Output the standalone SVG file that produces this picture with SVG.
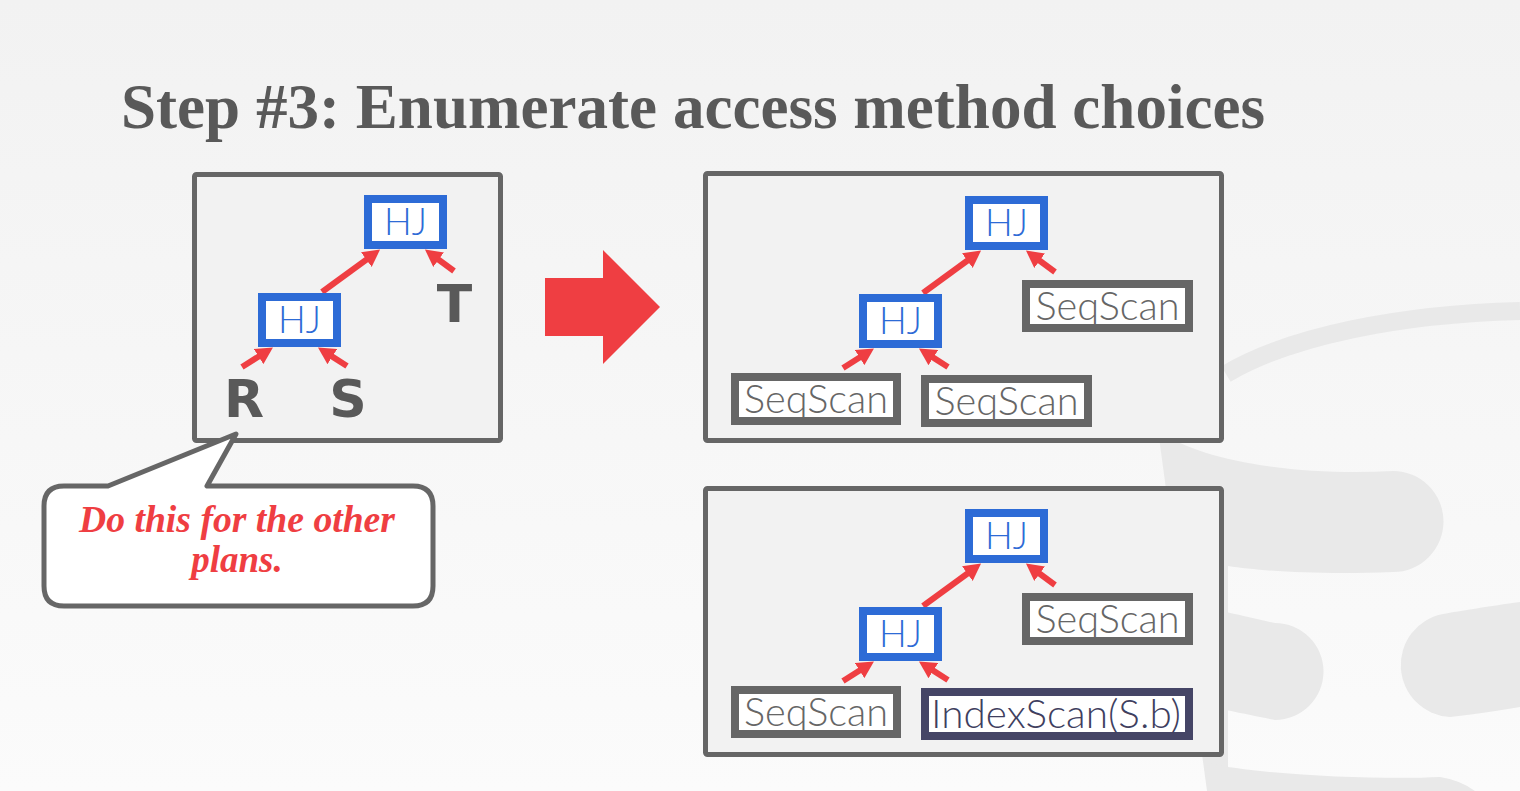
<svg xmlns="http://www.w3.org/2000/svg" width="1520" height="791" viewBox="0 0 1520 791">
<defs>
<linearGradient id="bg" x1="0" y1="0" x2="0" y2="1">
<stop offset="0" stop-color="#f2f2f2"/>
<stop offset="1" stop-color="#fbfbfb"/>
</linearGradient>
<marker id="ah" markerUnits="userSpaceOnUse" viewBox="0 0 17 18" markerWidth="17" markerHeight="18" refX="7" refY="9" orient="auto">
<path d="M0,0 L17,9 L0,18 Z" fill="#ef3e42"/>
</marker>
</defs>
<style>
.box{fill:#f2f2f2;stroke:#666;stroke-width:5}
.hj{fill:#fff;stroke:#2d6bd6;stroke-width:8}
.ss{fill:#fff;stroke:#666;stroke-width:8}
.ix{fill:#fff;stroke:#454566;stroke-width:8}
.hjt{font-family:Lato,"Open Sans",sans-serif;font-weight:300;font-size:38px;fill:#2d6bd6;text-anchor:middle}
.sst{font-family:Lato,"Open Sans",sans-serif;font-weight:300;font-size:40px;fill:#666;text-anchor:middle}
.ixt{font-family:Lato,"Open Sans",sans-serif;font-weight:300;font-size:40px;fill:#3f3f5f;text-anchor:middle}
.rel{font-family:"DejaVu Sans","Liberation Sans",sans-serif;font-weight:bold;font-size:52px;fill:#595959;text-anchor:middle}
.wm{fill:#e9e9e9}
.edge{fill:none;stroke:#ef3e42;stroke-width:6;marker-end:url(#ah)}
</style>
<rect x="0" y="0" width="1520" height="791" fill="url(#bg)"/>
<g id="watermark">
<path d="M1226,374 C1290,336 1400,314 1520,311" fill="none" stroke="#e9e9e9" stroke-width="18"/>
<path class="wm" d="M1158,430 C1200,462 1300,476 1393,471 A50,50 0 0 1 1393,572 C1320,575 1260,571 1228,566 L1228,791 L1207,791 Z"/>
<path class="wm" d="M1226,612 C1245,616 1260,620 1275,623 A48,48 0 0 1 1275,720 C1260,717 1245,714 1226,710 Z"/>
<path class="wm" d="M1520,602 C1490,606 1460,611 1443,614 A52,52 0 0 0 1450,717 C1480,714 1500,710 1520,707 Z"/>
<path class="wm" d="M1207,763 C1260,775 1380,780 1440,777 Q1460,780 1475,791 L1207,791 Z"/>
</g>
<text id="title" x="121" y="128" textLength="1144" lengthAdjust="spacingAndGlyphs" font-family="'Liberation Serif','Times New Roman',serif" font-weight="bold" font-size="63" fill="#595959">Step #3: Enumerate access method choices</text>
<rect class="box" x="194.5" y="174.5" width="306" height="266" rx="2"/>
<rect class="box" x="705.5" y="173.5" width="516" height="267" rx="2"/>
<rect class="box" x="705.5" y="488.5" width="516" height="266" rx="2"/>
<polygon id="bigarrow" points="545,278 603,278 603,250 660,307 603,364 603,336 545,336" fill="#ef3e42"/>
<g id="connectors">
<g id="edges-left">
<path class="edge" d="M242,367 L264.5,352.8"/>
<path class="edge" d="M347,366 L326.4,352.9"/>
<path class="edge" d="M322,292 L372,255.5"/>
<path class="edge" d="M454,271 L433,255.5"/>
</g>
<g id="edges-a" transform="translate(601,1)">
<path class="edge" d="M242,367 L264.5,352.8"/>
<path class="edge" d="M347,366 L326.4,352.9"/>
<path class="edge" d="M322,292 L372,255.5"/>
<path class="edge" d="M454,271 L433,255.5"/>
</g>
<g id="edges-b" transform="translate(601,314)">
<path class="edge" d="M242,367 L264.5,352.8"/>
<path class="edge" d="M347,366 L326.4,352.9"/>
<path class="edge" d="M322,292 L372,255.5"/>
<path class="edge" d="M454,271 L433,255.5"/>
</g>
</g>
<g id="l-hj-top"><rect class="hj" x="368" y="199" width="75" height="46"/><text class="hjt" x="405.5" y="235" textLength="43" lengthAdjust="spacingAndGlyphs">HJ</text></g>
<g id="l-hj-bot"><rect class="hj" x="262" y="297" width="75" height="46"/><text class="hjt" x="299.5" y="333" textLength="43" lengthAdjust="spacingAndGlyphs">HJ</text></g>
<g id="l-r"><text class="rel" x="244" y="417">R</text></g>
<g id="l-s"><text class="rel" x="348" y="417">S</text></g>
<g id="l-t"><text class="rel" x="454.5" y="322">T</text></g>
<g id="a-hj-top"><rect class="hj" x="969" y="200" width="75" height="46"/><text class="hjt" x="1006.5" y="236" textLength="43" lengthAdjust="spacingAndGlyphs">HJ</text></g>
<g id="a-hj-bot"><rect class="hj" x="863" y="298" width="75" height="46"/><text class="hjt" x="900.5" y="334" textLength="43" lengthAdjust="spacingAndGlyphs">HJ</text></g>
<g id="a-t"><rect class="ss" x="1026" y="284" width="163" height="44"/><text class="sst" x="1107.5" y="320" textLength="144" lengthAdjust="spacingAndGlyphs">SeqScan</text></g>
<g id="a-r"><rect class="ss" x="735" y="377" width="162" height="44"/><text class="sst" x="816" y="413" textLength="144" lengthAdjust="spacingAndGlyphs">SeqScan</text></g>
<g id="a-s"><rect class="ss" x="925" y="379" width="163" height="44"/><text class="sst" x="1006.5" y="415" textLength="144" lengthAdjust="spacingAndGlyphs">SeqScan</text></g>
<g id="b-hj-top"><rect class="hj" x="969" y="513" width="75" height="46"/><text class="hjt" x="1006.5" y="549" textLength="43" lengthAdjust="spacingAndGlyphs">HJ</text></g>
<g id="b-hj-bot"><rect class="hj" x="863" y="611" width="75" height="46"/><text class="hjt" x="900.5" y="647" textLength="43" lengthAdjust="spacingAndGlyphs">HJ</text></g>
<g id="b-t"><rect class="ss" x="1026" y="597" width="163" height="44"/><text class="sst" x="1107.5" y="633" textLength="144" lengthAdjust="spacingAndGlyphs">SeqScan</text></g>
<g id="b-r"><rect class="ss" x="735" y="690" width="162" height="44"/><text class="sst" x="816" y="726" textLength="144" lengthAdjust="spacingAndGlyphs">SeqScan</text></g>
<g id="b-s"><rect class="ix" x="925" y="692" width="264" height="44"/><text class="ixt" x="1056" y="728" textLength="250" lengthAdjust="spacingAndGlyphs">IndexScan(S.b)</text></g>
<g id="callout">
<path d="M64,486 L108,486 L236,434 L207,486 L413,486 Q433,486 433,506 L433,586 Q433,606 413,606 L64,606 Q44,606 44,586 L44,506 Q44,486 64,486 Z" fill="#fff" stroke="#666" stroke-width="5" stroke-linejoin="round"/>
<text x="237" y="532" textLength="316" lengthAdjust="spacingAndGlyphs" font-family="'Liberation Serif','Times New Roman',serif" font-weight="bold" font-style="italic" font-size="37" fill="#ef3e42" text-anchor="middle">Do this for the other</text>
<text x="237" y="572" font-family="'Liberation Serif','Times New Roman',serif" font-weight="bold" font-style="italic" font-size="37" fill="#ef3e42" text-anchor="middle">plans.</text>
</g>
</svg>
